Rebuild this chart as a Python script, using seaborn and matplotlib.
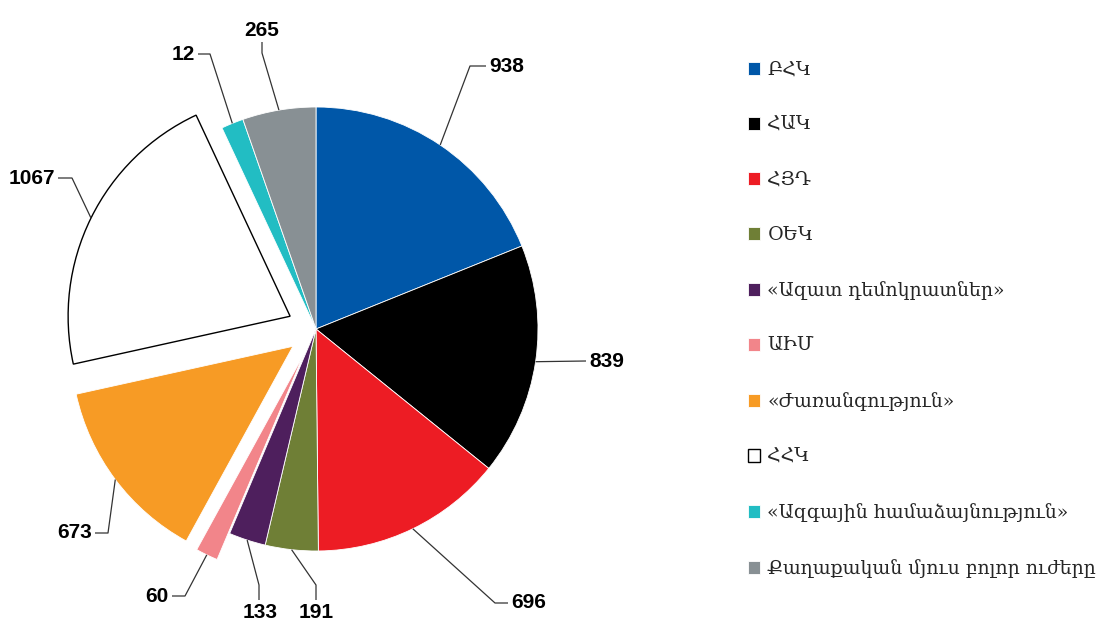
import numpy as np
import matplotlib
matplotlib.use("Agg")
import matplotlib.pyplot as plt
import seaborn as sns

# ---- data ----
parties = ["ԲՀԿ", "ՀԱԿ", "ՀՅԴ", "ՕԵԿ", "«Ազատ դեմոկրատներ»", "ԱԻՄ",
           "«Ժառանգություն»", "ՀՀԿ", "«Ազգային համաձայնություն»",
           "Քաղաքական մյուս բոլոր ուժերը"]
votes = [938, 839, 696, 191, 133, 60, 673, 1067, 12, 265]
colors = ["#0057A8", "#000000", "#ED1C24", "#6F7F36", "#4E1F5D", "#F2858A",
          "#F79B25", "#FFFFFF", "#22BDC3", "#889094"]
exploded = ["ԱԻՄ", "«Ժառանգություն»", "ՀՀԿ"]

sns.set_theme(style="white")
plt.rcParams['font.family'] = ['DejaVu Serif']

W, H = 1099, 628
CX, CY, R = 316, 329, 222
fig = plt.figure(figsize=(W / 100, H / 100), dpi=100)
ax = fig.add_axes([0, 0, 1, 1])


def P(px, py):
    return ((px - CX) / R, (CY - py) / R)


total = sum(votes)
min_share = 0.0165  # smallest drawn slice, as in the original chart
sizes = np.maximum(np.array(votes, float), min_share * total)
explode = [0.13 if p in exploded else 0 for p in parties]
wedges, _ = ax.pie(sizes, colors=colors, startangle=90, counterclock=False,
                   explode=explode, radius=1, frame=False,
                   wedgeprops=dict(edgecolor="white", linewidth=0.6))
for p, w in zip(parties, wedges):
    if p == "ՀՀԿ":
        w.set_edgecolor("black")
        w.set_linewidth(1.0)

ax.set_xlim(-CX / R, (W - CX) / R)
ax.set_ylim((CY - H) / R, CY / R)
ax.set_aspect("auto")
ax.axis("off")

# label layout (pixel positions): leader path after anchor, text pos, alignment
layout = [
    ([(470, 66), (486, 66)], (489, 66), "left", "center"),
    ([(586, 361)], (589, 361), "left", "center"),
    ([(495, 603), (508, 603)], (511, 603), "left", "center"),
    ([(316, 585), (316, 600)], (316, 603), "center", "top"),
    ([(259, 585), (259, 600)], (260, 603), "center", "top"),
    ([(185, 596), (172, 596)], (169, 596), "right", "center"),
    ([(108, 533), (95, 533)], (92, 533), "right", "center"),
    ([(72, 178), (58, 178)], (55, 178), "right", "center"),
    ([(210, 54), (198, 54)], (195, 54), "right", "center"),
    ([(262, 53), (262, 42)], (262, 40), "center", "bottom"),
]

for v, w, (path, tpos, ha, va) in zip(votes, wedges, layout):
    mid = np.deg2rad((w.theta1 + w.theta2) / 2)
    ax0 = w.center[0] + w.r * np.cos(mid)
    ay0 = w.center[1] + w.r * np.sin(mid)
    pts = [(ax0, ay0)] + [P(*q) for q in path]
    xs, ys = zip(*pts)
    ax.plot(xs, ys, color="#333333", lw=0.9, solid_capstyle="butt")
    tx, ty = P(*tpos)
    ax.text(tx, ty, str(v), ha=ha, va=va, fontsize=15, fontweight="bold",
            family=["Liberation Sans", "DejaVu Sans"], color="black")

leg = ax.legend(wedges, parties, loc="upper left",
                bbox_to_anchor=(748 / W, 1 - 61 / H),
                bbox_transform=fig.transFigure, frameon=False, fontsize=13.6,
                handlelength=0.65, handleheight=0.65, handletextpad=0.37,
                labelspacing=1.96, borderpad=0, borderaxespad=0)

fig.savefig("out.png", dpi=100)
